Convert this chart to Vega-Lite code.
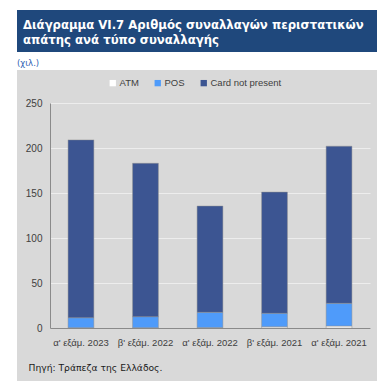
{
  "$schema": "https://vega.github.io/schema/vega-lite/v6.json",
  "background": "white",
  "padding": {"left": 17, "top": 10, "right": 0, "bottom": 0},
  "spacing": 6,
  "config": {"view": {"stroke": null}},
  "datasets": {
    "fraud": [
      {"period": "α' εξάμ. 2023", "type": "ATM", "k": 1, "value": 0.4},
      {"period": "α' εξάμ. 2023", "type": "POS", "k": 2, "value": 11},
      {"period": "α' εξάμ. 2023", "type": "Card not present", "k": 3, "value": 197.6},
      {"period": "β' εξάμ. 2022", "type": "ATM", "k": 1, "value": 0.4},
      {"period": "β' εξάμ. 2022", "type": "POS", "k": 2, "value": 12.2},
      {"period": "β' εξάμ. 2022", "type": "Card not present", "k": 3, "value": 170.4},
      {"period": "α' εξάμ. 2022", "type": "ATM", "k": 1, "value": 0.5},
      {"period": "α' εξάμ. 2022", "type": "POS", "k": 2, "value": 16.9},
      {"period": "α' εξάμ. 2022", "type": "Card not present", "k": 3, "value": 118.1},
      {"period": "β' εξάμ. 2021", "type": "ATM", "k": 1, "value": 1.4},
      {"period": "β' εξάμ. 2021", "type": "POS", "k": 2, "value": 14.9},
      {"period": "β' εξάμ. 2021", "type": "Card not present", "k": 3, "value": 134.7},
      {"period": "α' εξάμ. 2021", "type": "ATM", "k": 1, "value": 2.2},
      {"period": "α' εξάμ. 2021", "type": "POS", "k": 2, "value": 25.2},
      {"period": "α' εξάμ. 2021", "type": "Card not present", "k": 3, "value": 174.6}
    ]
  },
  "vconcat": [
    {
      "width": 360,
      "height": 42,
      "view": {"fill": "#1F487C", "stroke": null},
      "title": {
        "text": ["Διάγραμμα VI.7 Αριθμός συναλλαγών περιστατικών", "απάτης ανά τύπο συναλλαγής"],
        "anchor": "start",
        "frame": "group",
        "dx": 6,
        "offset": -37,
        "color": "white",
        "font": "DejaVu Sans",
        "fontSize": 11.7,
        "fontWeight": "bold",
        "lineHeight": 15
      },
      "data": {"values": [{"t": ""}]},
      "mark": {"type": "text", "opacity": 0},
      "encoding": {"text": {"field": "t"}}
    },
    {
      "width": 360,
      "height": 311,
      "view": {"fill": "#D9D9D9", "stroke": null},
      "title": {
        "text": "(χιλ.)",
        "anchor": "start",
        "frame": "group",
        "offset": 3,
        "color": "#2F5FB3",
        "font": "DejaVu Sans",
        "fontSize": 8.5,
        "fontWeight": "normal"
      },
      "data": {"name": "fraud"},
      "mark": {"type": "bar", "stroke": "#8F8F8F", "strokeWidth": 0.6, "strokeOpacity": 0.8},
      "encoding": {
        "x": {
          "field": "period",
          "type": "nominal",
          "sort": ["α' εξάμ. 2023", "β' εξάμ. 2022", "α' εξάμ. 2022", "β' εξάμ. 2021", "α' εξάμ. 2021"],
          "scale": {"range": [33, 353], "paddingInner": 0.6, "paddingOuter": 0.28},
          "axis": {
            "offset": -53,
            "labelAngle": 0,
            "ticks": false,
            "domainColor": "#8A8A8A",
            "domainWidth": 1,
            "labelFont": "Liberation Sans",
            "labelFontSize": 9.5,
            "labelColor": "#404040",
            "labelPadding": 9,
            "title": "Πηγή: Τράπεζα της Ελλάδος.",
            "titleAnchor": "start",
            "titleAlign": "left",
            "titleX": 11,
            "titleY": 35,
            "titleFont": "DejaVu Sans",
            "titleFontSize": 9.2,
            "titleFontWeight": "normal",
            "titleColor": "#1a1a1a"
          }
        },
        "y": {
          "field": "value",
          "type": "quantitative",
          "aggregate": "sum",
          "stack": "zero",
          "scale": {"domain": [0, 250], "range": [258, 33], "nice": false},
          "axis": {
            "offset": -33,
            "values": [0, 50, 100, 150, 200, 250],
            "title": null,
            "ticks": false,
            "domainColor": "#8A8A8A",
            "domainWidth": 1,
            "gridColor": "#EDEDED",
            "gridWidth": 1,
            "labelFont": "Liberation Sans",
            "labelFontSize": 10,
            "labelColor": "#404040",
            "labelPadding": 8
          }
        },
        "color": {
          "field": "type",
          "type": "nominal",
          "scale": {"domain": ["ATM", "POS", "Card not present"], "range": ["#FFFFFF", "#4F9BFA", "#3C5592"]},
          "legend": {
            "orient": "none",
            "legendX": 91,
            "legendY": 68,
            "direction": "horizontal",
            "title": null,
            "symbolType": "square",
            "symbolSize": 40,
            "symbolStrokeWidth": 0,
            "labelFont": "Liberation Sans",
            "labelFontSize": 9.5,
            "labelColor": "#404040",
            "labelOffset": 2,
            "columnPadding": 14
          }
        },
        "order": {"field": "k", "type": "quantitative"}
      }
    }
  ]
}
